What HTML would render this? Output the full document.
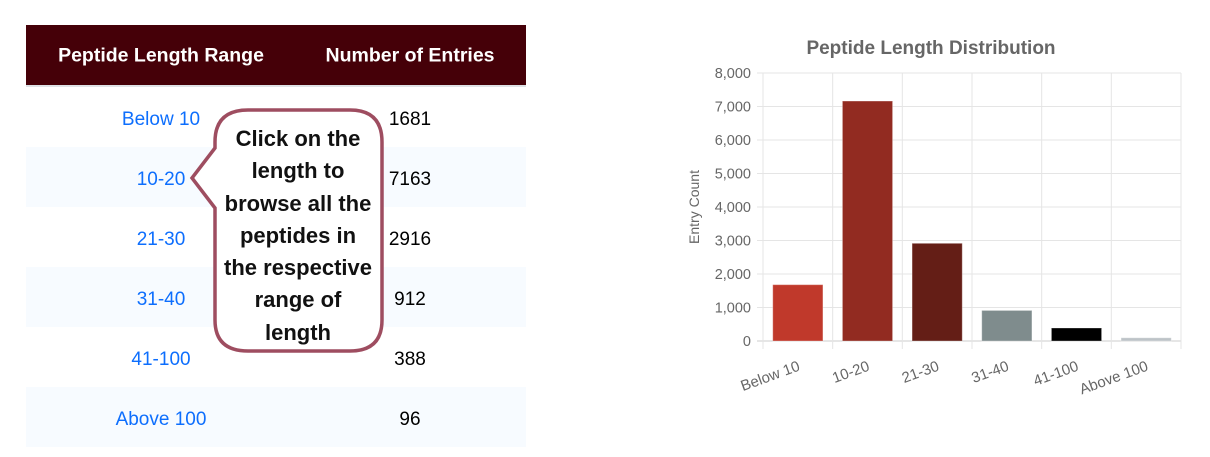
<!DOCTYPE html>
<html><head><meta charset="utf-8"><style>
body{margin:0;width:1210px;height:457px;background:#fff;position:relative;overflow:hidden;font-family:"Liberation Sans",sans-serif}
.tbl{position:absolute;left:26px;top:25px;width:500px}
.hdr{height:60px;background:#450008;border-bottom:2px solid #dee2e6;color:#fff;font-weight:bold;font-size:19.5px;position:relative}
.hdr span,.row span{position:absolute;top:52%;transform:translate(-50%,-50%);white-space:nowrap}
.row span{top:55%}
.row{height:60px;position:relative;font-size:19px}
.row.alt{background:#f7fbff}
.c1{left:135px}.c2{left:384px}
.row .c1{color:#0d6efd}
.callout{position:absolute;left:0;top:0}
.ctext{position:absolute;left:210px;top:123px;width:176px;text-align:center;font-weight:bold;font-size:22px;line-height:32.3px;color:#111;white-space:nowrap}
</style></head><body>
<div class="tbl">
<div class="hdr"><span class="c1">Peptide Length Range</span><span class="c2">Number of Entries</span></div>
<div class="row"><span class="c1">Below 10</span><span class="c2">1681</span></div>
<div class="row alt"><span class="c1">10-20</span><span class="c2">7163</span></div>
<div class="row"><span class="c1">21-30</span><span class="c2">2916</span></div>
<div class="row alt"><span class="c1">31-40</span><span class="c2">912</span></div>
<div class="row"><span class="c1">41-100</span><span class="c2">388</span></div>
<div class="row alt"><span class="c1">Above 100</span><span class="c2">96</span></div>
</div>
<svg class="callout" width="1210" height="457">
<path d="M248,110 H350 Q382,110 382,142 V320 Q382,351 350,351 H248 Q215,351 215,320 V208 L192,178 L215,148 V142 Q215,110 248,110 Z" fill="#fff" stroke="#9e4d60" stroke-width="3.5"/>
</svg>
<div class="ctext">Click on the<br>length to<br>browse all the<br>peptides in<br>the respective<br>range of<br>length</div>
<svg id="chart" width="1210" height="457" style="position:absolute;left:0;top:0"></svg>
<script>
const categories=["Below 10","10-20","21-30","31-40","41-100","Above 100"];
const values=[1681,7163,2916,912,388,96];
const colors=["#c0392b","#922b21","#641e16","#7f8c8d","#000000","#bdc3c7"];
const yTicks=[0,1000,2000,3000,4000,5000,6000,7000,8000];
const svg=document.getElementById('chart');
const NS="http://www.w3.org/2000/svg";
const L=763,R=1181,T=73,B=341,yMax=8000;
const y=v=>B-(v/yMax)*(B-T);
const bw=(R-L)/categories.length;
const x=i=>L+i*bw;
function mk(tag,attrs,txt){const e=document.createElementNS(NS,tag);for(const k in attrs)e.setAttribute(k,attrs[k]);if(txt!==undefined)e.textContent=txt;svg.appendChild(e);return e;}
const title=mk('text',{x:931,y:54,'text-anchor':'middle','font-size':19,'font-weight':'bold',fill:'#666','font-family':'Liberation Sans'},'Peptide Length Distribution');


yTicks.forEach(t=>{
 const g=mk('line',{x1:L-6,x2:R,y1:y(t),y2:y(t),stroke:t===0?'#ccc':'#e5e5e5'});
 
 
 const lb=mk('text',{x:L-12,y:y(t)+5,'text-anchor':'end','font-size':14.5,fill:'#666'},t.toLocaleString('en-US'));
 
 
});
for(let i=0;i<=categories.length;i++){
 const g=mk('line',{x1:x(i),x2:x(i),y1:T,y2:B+8,stroke:'#e5e5e5'});
 
 
}
categories.forEach((c,i)=>{
 const w=bw*0.72,bx=x(i)+(bw-w)/2;
 const r=mk('rect',{x:bx,y:y(values[i]),width:w,height:B-y(values[i]),fill:colors[i],stroke:'rgba(255,255,255,0.3)'});
 
 
 const cx=x(i)+bw/2+3;
 const t=mk('text',{x:cx,y:370,'text-anchor':'end','font-size':15,fill:'#666',transform:`rotate(-20 ${cx} 370)`},c);
 
 
});
const yt=mk('text',{x:699,y:207,'text-anchor':'middle','font-size':14,fill:'#666',transform:'rotate(-90 699 207)'},'Entry Count');


</script>
</body></html>
